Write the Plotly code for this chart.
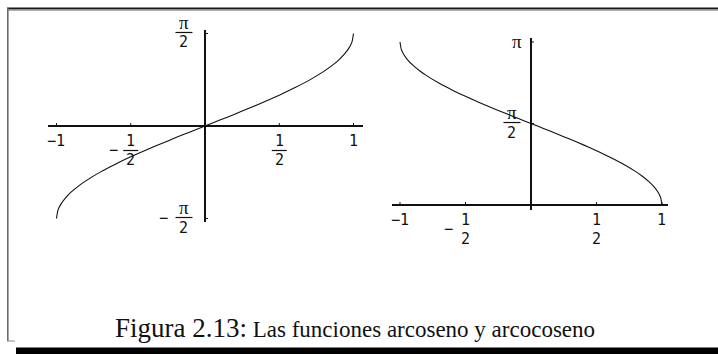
import plotly.graph_objects as go

W, H = 718, 354

# Sample points of y = arcsin(x) and y = arccos(x), in radians
asin_x = [-1, -0.99, -0.97, -0.94, -0.9, -0.85, -0.8, -0.7, -0.6, -0.5, -0.4, -0.3, -0.2, -0.1,
          0, 0.1, 0.2, 0.3, 0.4, 0.5, 0.6, 0.7, 0.8, 0.85, 0.9, 0.94, 0.97, 0.99, 1]
asin_y = [-1.571, -1.429, -1.326, -1.223, -1.120, -1.016, -0.927, -0.775, -0.644, -0.524,
          -0.412, -0.305, -0.201, -0.100, 0.0, 0.100, 0.201, 0.305, 0.412, 0.524, 0.644,
          0.775, 0.927, 1.016, 1.120, 1.223, 1.326, 1.429, 1.571]
acos_x = [-1, -0.99, -0.97, -0.94, -0.9, -0.85, -0.8, -0.7, -0.6, -0.5, -0.4, -0.3, -0.2, -0.1,
          0, 0.1, 0.2, 0.3, 0.4, 0.5, 0.6, 0.7, 0.8, 0.85, 0.9, 0.94, 0.97, 0.99, 1]
acos_y = [3.142, 3.000, 2.897, 2.794, 2.691, 2.587, 2.498, 2.346, 2.214, 2.094, 1.982, 1.875,
          1.772, 1.671, 1.571, 1.471, 1.369, 1.266, 1.159, 1.047, 0.927, 0.795, 0.644, 0.555,
          0.451, 0.348, 0.245, 0.142, 0.0]

# Tick positions and their labels (numerator, denominator, leading minus)
x_ticks = [-1, -0.5, 0.5, 1]
x_tick_num = ["1", "1", "1", "1"]
x_tick_den = [None, "2", "2", None]
x_tick_neg = [True, True, False, False]

asin_y_ticks = [-1.5708, 1.5708]
asin_y_num = ["π", "π"]
asin_y_den = ["2", "2"]
asin_y_neg = [True, False]

acos_y_ticks = [1.5708, 3.1416]
acos_y_num = ["π", "π"]
acos_y_den = ["2", None]
acos_y_neg = [False, False]

caption_head = "Figura 2.13:"
caption_body = "Las funciones arcoseno y arcocoseno"

INK = "#111111"
NUM_FONT = dict(family="DejaVu Sans Mono", size=15, color=INK)
PI_FONT = dict(family="Liberation Serif", size=19, color=INK)


def py(p):
    return 1 - p / H


fig = go.Figure()
fig.add_trace(go.Scatter(x=asin_x, y=asin_y, mode="lines", xaxis="x", yaxis="y",
                         line=dict(color=INK, width=1.1, shape="spline", smoothing=0.5),
                         hoverinfo="skip", showlegend=False))
fig.add_trace(go.Scatter(x=acos_x, y=acos_y, mode="lines", xaxis="x2", yaxis="y2",
                         line=dict(color=INK, width=1.1, shape="spline", smoothing=0.5),
                         hoverinfo="skip", showlegend=False))

axis_style = dict(showgrid=False, zeroline=True, zerolinecolor=INK, zerolinewidth=1.6,
                  showticklabels=False, ticks="", showline=False, fixedrange=True)

annotations = []
shapes = []


def label(xr, yr, x, y, text, font, xs=0, ys=0):
    annotations.append(dict(xref=xr, yref=yr, x=x, y=y, text=text, showarrow=False,
                            xanchor="center", yanchor="middle", xshift=xs, yshift=ys,
                            font=font))


def bar(xr, yr, x, y, xs, ys, half):
    shapes.append(dict(type="line", xref=xr, yref=yr, xsizemode="pixel", ysizemode="pixel",
                       xanchor=x, yanchor=y, x0=xs - half, x1=xs + half, y0=ys, y1=ys,
                       line=dict(color=INK, width=1.2)))


def x_axis_labels(xr, yr):
    for v, num, den, neg in zip(x_ticks, x_tick_num, x_tick_den, x_tick_neg):
        # small tick mark pointing into the plot
        shapes.append(dict(type="line", xref=xr, yref=yr, ysizemode="pixel", yanchor=0,
                           x0=v, x1=v, y0=0, y1=3, line=dict(color=INK, width=1)))
        if den is None:
            label(xr, yr, v, 0, ("−" if neg else "") + num, NUM_FONT, ys=-15)
        else:
            label(xr, yr, v, 0, num, NUM_FONT, xs=0, ys=-15)
            bar(xr, yr, v, 0, 0, -24.5, 7.5)
            label(xr, yr, v, 0, den, NUM_FONT, xs=0, ys=-34)
            if neg:
                label(xr, yr, v, 0, "−", NUM_FONT, xs=-17, ys=-24)


def y_axis_labels(xr, yr, ticks, nums, dens, negs, dx):
    for v, num, den, neg in zip(ticks, nums, dens, negs):
        shapes.append(dict(type="line", xref=xr, yref=yr, xsizemode="pixel", xanchor=0,
                           x0=0, x1=3, y0=v, y1=v, line=dict(color=INK, width=1)))
        if den is None:
            label(xr, yr, 0, v, num, PI_FONT, xs=-14, ys=1)
        else:
            label(xr, yr, 0, v, num, PI_FONT, xs=dx, ys=11)
            bar(xr, yr, 0, v, dx, 1, 8.5)
            label(xr, yr, 0, v, den, NUM_FONT, xs=dx, ys=-9)
            if neg:
                label(xr, yr, 0, v, "−", NUM_FONT, xs=dx - 20, ys=1)


x_axis_labels("x", "y")
x_axis_labels("x2", "y2")
y_axis_labels("x", "y", asin_y_ticks, asin_y_num, asin_y_den, asin_y_neg, -21)
y_axis_labels("x2", "y2", acos_y_ticks, acos_y_num, acos_y_den, acos_y_neg, -19)

# Page frame and rule under the caption
frame = dict(color="#1a1a1a", width=2)
shapes += [
    dict(type="line", xref="paper", yref="paper", x0=7 / W, x1=1, y0=py(8.5), y1=py(8.5), line=frame),
    dict(type="line", xref="paper", yref="paper", x0=7 / W, x1=1, y0=py(10.5), y1=py(10.5),
         line=dict(color="#b0b0b0", width=1)),
    dict(type="line", xref="paper", yref="paper", x0=7.8 / W, x1=7.8 / W, y0=py(8), y1=py(341),
         line=dict(color="#6a6a6a", width=1.6)),
    dict(type="line", xref="paper", yref="paper", x0=7 / W, x1=15 / W, y0=py(341), y1=py(341),
         line=dict(color="#8a8a8a", width=1)),
    dict(type="rect", xref="paper", yref="paper", x0=16 / W, x1=1, y0=py(354), y1=py(347.5),
         line=dict(width=0), fillcolor="#000000"),
]

annotations.append(dict(
    xref="paper", yref="paper", x=355 / W, y=py(328), xanchor="center", yanchor="middle",
    showarrow=False,
    text=f"<span style='font-size:27px'>{caption_head}</span> {caption_body}",
    font=dict(family="Liberation Serif", size=23, color=INK)))

fig.update_layout(
    width=W, height=H, margin=dict(l=0, r=0, t=0, b=0),
    paper_bgcolor="white", plot_bgcolor="white", showlegend=False,
    xaxis=dict(domain=[48 / W, 363 / W], range=[-1.057, 1.064], anchor="y", **axis_style),
    yaxis=dict(domain=[py(222), py(30)], range=[-1.63, 1.63], anchor="x", **axis_style),
    xaxis2=dict(domain=[392 / W, 668 / W], range=[-1.061, 1.046], anchor="y2", **axis_style),
    yaxis2=dict(domain=[py(210), py(38)], range=[-0.096, 3.219], anchor="x2", **axis_style),
    annotations=annotations, shapes=shapes,
)

fig.write_html("out.html", config=dict(displayModeBar=False, staticPlot=True))
